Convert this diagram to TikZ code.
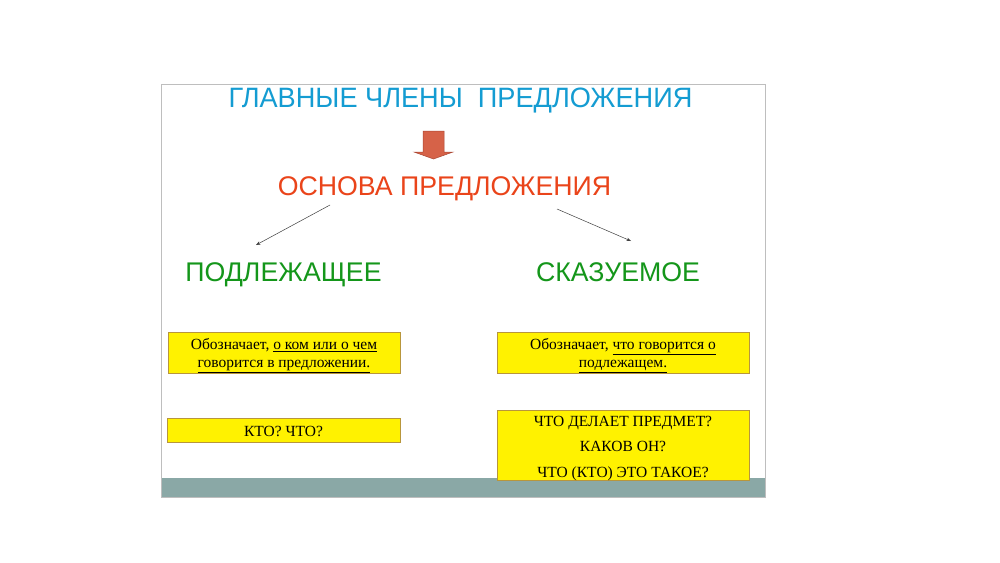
\documentclass[tikz,border=0pt]{standalone}
\usepackage{fontspec}
\usepackage{graphicx}
\setmainfont{Liberation Serif}
\setsansfont{Liberation Sans}
\usetikzlibrary{arrows.meta}
\newcommand{\myul}[1]{\underline{#1}}
\definecolor{titleblue}{RGB}{20,156,210}
\definecolor{basered}{RGB}{234,68,26}
\definecolor{termgreen}{RGB}{20,150,26}
\definecolor{arrowfill}{RGB}{214,98,72}
\definecolor{arrowline}{RGB}{170,70,50}
\definecolor{boxline}{RGB}{184,150,60}
\definecolor{barcol}{RGB}{138,168,166}
\definecolor{framecol}{RGB}{190,190,190}
\tikzset{
  heading/.style={inner sep=0pt, anchor=base},
  infobox/.style={draw=boxline, fill=yellow, line width=0.8pt, inner sep=0pt},
  boxtext/.style={inner sep=0pt, align=center, font=\fontsize{15.5}{18}\selectfont},
  connector/.style={draw=black!75, line width=0.5pt, -{Stealth[length=4.5pt,width=3.5pt]}}
}
\begin{document}
\begin{tikzpicture}[x=1pt,y=1pt]
\useasboundingbox (0,0) rectangle (1000,-562);
\fill[white] (0,0) rectangle (1000,-562);
% slide frame
\draw[framecol, line width=0.7pt] (161,-84) rectangle (765,-497);
\fill[barcol] (161.5,-477.5) rectangle (764.5,-496.5);
% title
\node[heading, text=titleblue, font=\sffamily\fontsize{28}{30}\selectfont] (title) at (460.5,-107.5) {\scalebox{0.97}[1]{ГЛАВНЫЕ ЧЛЕНЫ\ \ ПРЕДЛОЖЕНИЯ}};
% block arrow
\draw[draw=arrowline, fill=arrowfill, line width=0.5pt] (423,-131) -- (444,-131) -- (444,-152) -- (453,-152) -- (433.5,-159) -- (414,-152) -- (423,-152) -- cycle;
% base
\node[heading, text=basered, font=\sffamily\fontsize{27}{30}\selectfont] (base) at (444.5,-195.5) {\scalebox{0.99}[1]{ОСНОВА ПРЕДЛОЖЕНИЯ}};
% subject / predicate
\node[heading, text=termgreen, font=\sffamily\fontsize{27}{30}\selectfont] (subj) at (283.5,-281.5) {\scalebox{0.99}[1]{ПОДЛЕЖАЩЕЕ}};
\node[heading, text=termgreen, font=\sffamily\fontsize{27}{30}\selectfont] (pred) at (618,-281.5) {\scalebox{0.99}[1]{СКАЗУЕМОЕ}};
% connectors
\coordinate (ls) at (330,-205);
\coordinate (le) at (256,-245);
\coordinate (rs) at (557,-209);
\coordinate (re) at (631,-241);
\draw[connector] (ls) -- (le);
\draw[connector] (rs) -- (re);
% boxes
\node[infobox, minimum width=232pt, minimum height=41pt] (b1) at (284,-352.5) {};
\node[boxtext] (t1) at ([yshift=-3pt]b1.center) {Обозначает, \myul{о ком или о чем}\\ \myul{говорится в предложении.}};
\node[infobox, minimum width=252pt, minimum height=41pt] (b2) at (623,-352.5) {};
\node[boxtext] (t2) at ([yshift=-3pt]b2.center) {Обозначает, \myul{что говорится о}\\ \myul{подлежащем.}};
\node[infobox, minimum width=233pt, minimum height=24pt] (b3) at (283.5,-430) {};
\node[boxtext] (t3) at ([yshift=-1.5pt]b3.center) {КТО? ЧТО?};
\node[infobox, minimum width=252pt, minimum height=70pt] (b4) at (623,-445) {};
\node[boxtext, font=\fontsize{15.5}{25.5}\selectfont] (t4) at ([yshift=-3.5pt]b4.center) {ЧТО ДЕЛАЕТ ПРЕДМЕТ?\\ КАКОВ ОН?\\ ЧТО (КТО) ЭТО ТАКОЕ?};
\end{tikzpicture}
\end{document}
